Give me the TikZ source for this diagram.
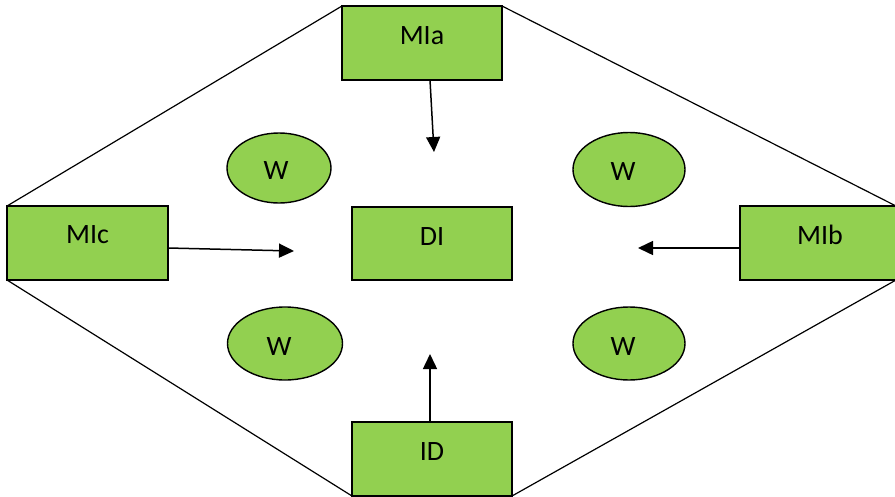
\documentclass[tikz,border=0pt]{standalone}
\usepackage{fontspec}
\setmainfont{Carlito}
\usetikzlibrary{shapes.geometric,arrows.meta}
\pgfdeclarelayer{background}
\pgfsetlayers{background,main}
\definecolor{boxgreen}{HTML}{92D050}
\begin{document}
\begin{tikzpicture}[x=1pt,y=-1pt,
  font=\fontsize{28}{32}\selectfont,
  gbox/.style={draw=black, line width=1.8pt, fill=boxgreen, rectangle,
    minimum width=160pt, minimum height=74pt, inner sep=0pt, outer sep=0pt},
  gell/.style={draw=black, line width=1.4pt, fill=boxgreen, ellipse,
    inner sep=0pt, outer sep=0pt},
  arr/.style={draw=black, line width=1.5pt, -{Triangle[length=15pt,width=14pt]}},
  edge/.style={draw=black, line width=1.2pt}]
\useasboundingbox (0,0) rectangle (895,496);
% boxes
\node[gbox, label={[yshift=7pt]center:MIa}] (mia) at (422,43) {};
\node[gbox, minimum width=161pt, label={[yshift=8pt]center:MIc}] (mic) at (87.5,243) {};
\node[gbox, minimum width=158pt, label={[yshift=8pt,xshift=1pt]center:MIb}] (mib) at (819,243) {};
\node[gbox, minimum height=73pt, label={[yshift=7pt]center:DI}] (di) at (432,243.5) {};
\node[gbox, label={[yshift=7pt]center:ID}] (id) at (432,459) {};
% ellipses
\node[gell, minimum width=104pt, minimum height=70pt, label={[xshift=-3pt,yshift=-3pt]center:W}] (w1) at (279,168) {};
\node[gell, minimum width=112pt, minimum height=74pt, label={[xshift=-6pt,yshift=-2pt]center:W}] (w2) at (629,169.5) {};
\node[gell, minimum width=115pt, minimum height=73pt, label={[xshift=-6pt,yshift=-3pt]center:W}] (w3) at (285,343.5) {};
\node[gell, minimum width=112pt, minimum height=73pt, label={[xshift=-6pt,yshift=-3pt]center:W}] (w4) at (629,343.5) {};
% arrow ends
\coordinate (ta) at (434,152);
\coordinate (tc) at (294,251);
\coordinate (tb) at (638,248);
\coordinate (td) at (430,354);
\draw[arr] ([xshift=8pt]mia.south) -- (ta);
\draw[arr] ([yshift=-5pt]mic.east) -- (tc);
\draw[arr] ([yshift=-5pt]mib.west) -- (tb);
\draw[arr] ([xshift=-2pt]id.north) -- (td);
% outer hexagon
\begin{pgfonlayer}{background}
\draw[edge] (mia.north west) -- (mic.north west);
\draw[edge] (mic.south west) -- (id.south west);
\draw[edge] (id.south east) -- ([xshift=-2pt]mib.south east);
\draw[edge] ([xshift=-2pt]mib.north east) -- (mia.north east);
\end{pgfonlayer}
\end{tikzpicture}
\end{document}
